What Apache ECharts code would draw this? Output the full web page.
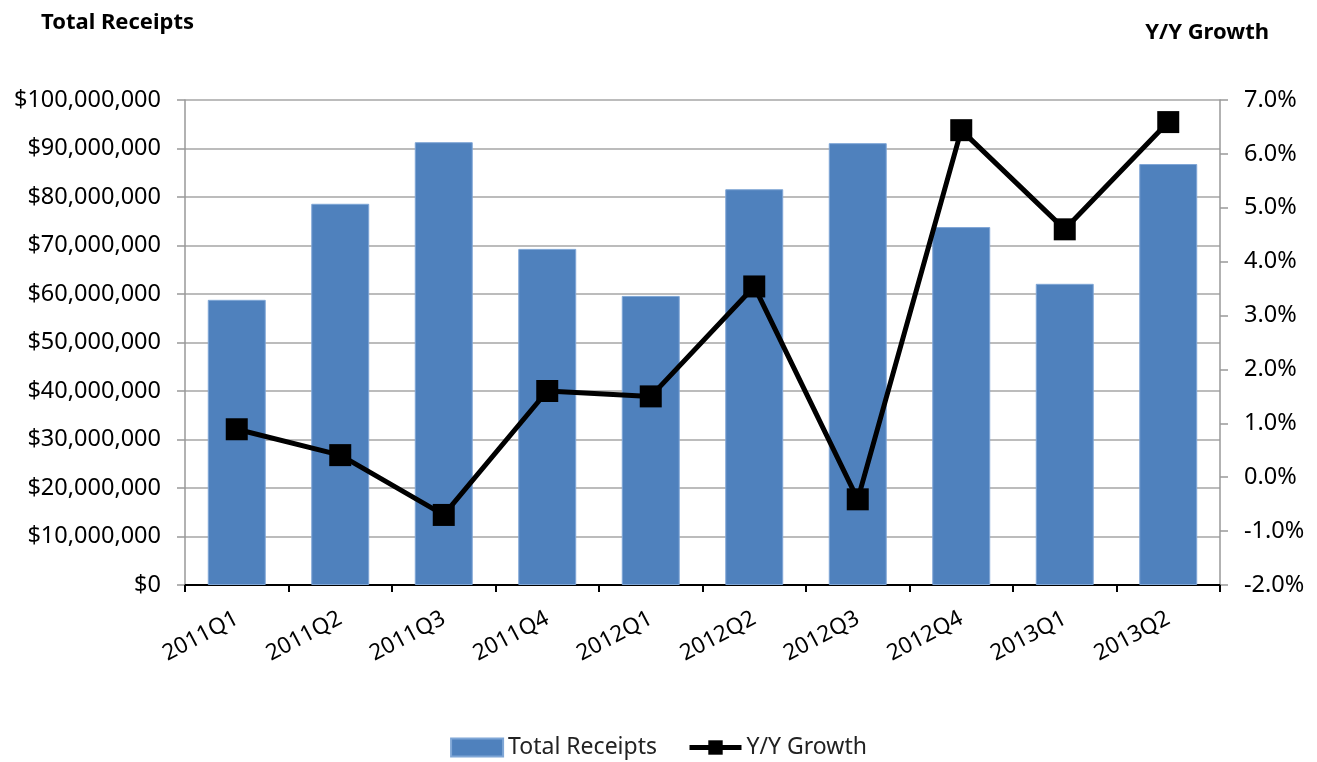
<!DOCTYPE html>
<html>
<head>
<meta charset="utf-8">
<script src="https://cdn.jsdelivr.net/npm/echarts@6/dist/echarts.min.js"></script>
<style>
html,body{margin:0;padding:0;background:#fff;}
#c{width:1317px;height:762px;}
</style>
</head>
<body>
<div id="c"></div>
<script>
const categories = ['2011Q1','2011Q2','2011Q3','2011Q4','2012Q1','2012Q2','2012Q3','2012Q4','2013Q1','2013Q2'];
const totalReceipts = [58800000, 78600000, 91300000, 69300000, 59600000, 81600000, 91100000, 73800000, 62100000, 86800000];
const yoyGrowth = [0.89, 0.41, -0.70, 1.60, 1.50, 3.54, -0.41, 6.44, 4.60, 6.59];

const FONT = '"Noto Sans", "DejaVu Sans", sans-serif';
const chart = echarts.init(document.getElementById('c'), null, {renderer: 'canvas'});
chart.setOption({
  animation: false,
  backgroundColor: '#ffffff',
  textStyle: {fontFamily: FONT},
  title: [
    {text: 'Total Receipts', left: 36, top: 7, textStyle: {fontFamily: FONT, fontSize: 22, fontWeight: 'bold', color: '#000'}},
    {text: 'Y/Y Growth', right: 43, top: 17, textStyle: {fontFamily: FONT, fontSize: 22, fontWeight: 'bold', color: '#000'}}
  ],
  grid: {left: 185, right: 97, top: 100, bottom: 177, containLabel: false},
  legend: {
    bottom: -2, left: 'center', itemGap: 30, itemWidth: 52, itemHeight: 18,
    textStyle: {fontFamily: FONT, fontSize: 23, color: '#222'},
    lineStyle: {width: 5},
    data: [
      {name: 'Total Receipts', icon: 'rect'},
      {name: 'Y/Y Growth'}
    ]
  },
  xAxis: {
    type: 'category', data: categories,
    boundaryGap: true,
    axisLine: {lineStyle: {color: '#000', width: 2}},
    axisTick: {show: true, alignWithLabel: false, length: 7, lineStyle: {color: '#000', width: 2}},
    axisLabel: {rotate: 28, fontFamily: FONT, fontSize: 22.5, color: '#000', margin: 32}
  },
  yAxis: [
    {
      type: 'value', min: 0, max: 100000000, interval: 10000000,
      axisLine: {show: true, lineStyle: {color: '#999', width: 1.5}},
      axisTick: {show: true, length: 8, lineStyle: {color: '#999', width: 1.5}},
      splitLine: {show: true, lineStyle: {color: '#a6a6a6', width: 1.5}},
      axisLabel: {fontFamily: FONT, fontSize: 23.5, color: '#000', margin: 24,
        formatter: v => '$' + v.toLocaleString('en-US')}
    },
    {
      type: 'value', min: -2, max: 7, interval: 1, position: 'right',
      axisLine: {show: true, lineStyle: {color: '#999', width: 1.5}},
      axisTick: {show: true, length: 8, lineStyle: {color: '#999', width: 1.5}},
      splitLine: {show: false},
      axisLabel: {fontFamily: FONT, fontSize: 23.5, color: '#000', margin: 24,
        formatter: v => v.toFixed(1) + '%'}
    }
  ],
  series: [
    {
      name: 'Total Receipts', type: 'bar', yAxisIndex: 0, data: totalReceipts,
      barWidth: '56%',
      itemStyle: {color: '#4f81bd', borderColor: '#7fa6d6', borderWidth: 1}
    },
    {
      name: 'Y/Y Growth', type: 'line', yAxisIndex: 1, data: yoyGrowth,
      symbol: 'rect', symbolSize: 22,
      lineStyle: {color: '#000', width: 5},
      itemStyle: {color: '#000'}
    }
  ]
});
</script>
</body>
</html>
